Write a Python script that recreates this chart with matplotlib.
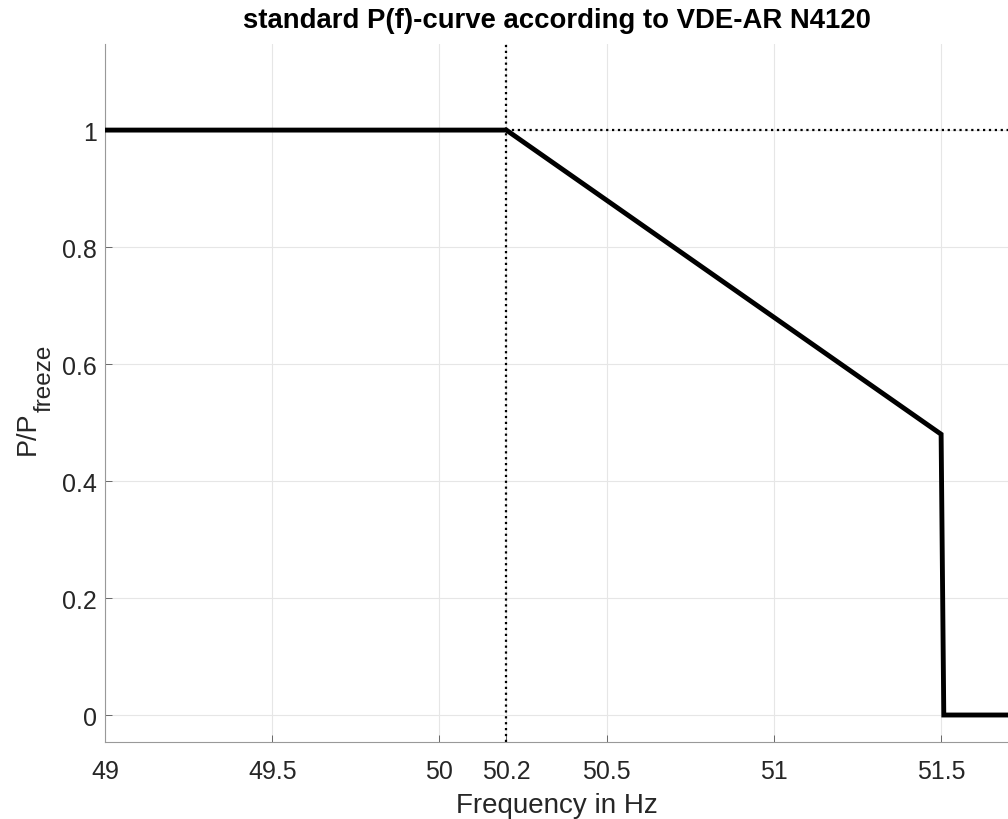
import matplotlib
matplotlib.use("Agg")
import matplotlib.pyplot as plt

plt.rcParams['font.family'] = ['Liberation Sans', 'DejaVu Sans']

# P(f) curve breakpoints
freq = [49.0, 50.2, 51.5, 51.508, 51.7]
power = [1.0, 1.0, 0.48, 0.0, 0.0]

f_start = 50.2
x_ticks = [49, 49.5, 50, 50.2, 50.5, 51, 51.5]
x_labels = ["49", "49.5", "50", "50.2", "50.5", "51", "51.5"]
y_ticks = [0, 0.2, 0.4, 0.6, 0.8, 1]
y_labels = ["0", "0.2", "0.4", "0.6", "0.8", "1"]

fig = plt.figure(figsize=(10.08, 8.2), dpi=100)
ax = fig.add_axes([0.1042, 0.094, 0.8958, 0.851])

ax.plot(freq, power, color="black", linewidth=3.5, solid_joinstyle="miter", zorder=3)
ax.axvline(f_start, color="black", linestyle=":", linewidth=1.6, zorder=2)
ax.plot([f_start, 51.7], [1, 1], color="black", linestyle=":", linewidth=1.6, zorder=2)

ax.set_xlim(49, 51.7)
ax.set_ylim(-0.046, 1.147)
ax.set_xticks(x_ticks)
ax.set_xticklabels(x_labels)
ax.set_yticks(y_ticks)
ax.set_yticklabels(y_labels)

ax.grid(True, color="#e6e6e6", linewidth=0.8)
ax.set_axisbelow(True)
for s in ["top", "right"]:
    ax.spines[s].set_visible(False)
for s in ["left", "bottom"]:
    ax.spines[s].set_color("#999999")
    ax.spines[s].set_linewidth(0.8)
ax.tick_params(direction="in", length=5, width=0.6, color="#555555",
               labelcolor="#262626", labelsize=18)
ax.tick_params(axis="x", pad=12)
ax.tick_params(axis="y", pad=6)

ax.set_xlabel("Frequency in Hz", fontsize=20, color="#262626", labelpad=7)
# y label with a large subscript, as in the original
fig.text(0.0347, 0.4451, "P/P", fontsize=19.5, color="#262626", rotation=90,
         rotation_mode="anchor", ha="left", va="baseline")
fig.text(0.0506, 0.4976, "freeze", fontsize=17.5, color="#262626", rotation=90,
         rotation_mode="anchor", ha="left", va="baseline")
ax.set_title("standard P(f)-curve according to VDE-AR N4120", fontsize=19.8,
             fontweight="bold", pad=12)

fig.savefig("out.png", dpi=100)
